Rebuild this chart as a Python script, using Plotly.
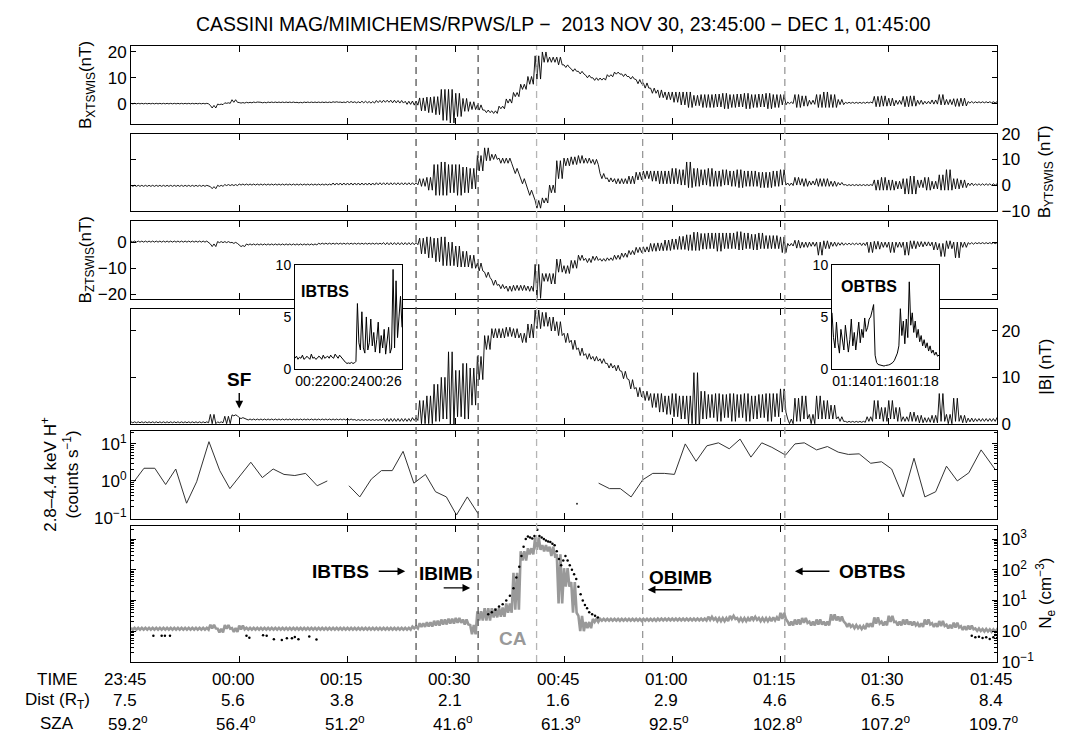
import pandas as pd
import plotly.graph_objects as go

# ---------------- data ----------------
START = pd.Timestamp("2013-11-30 23:45:00")
END = pd.Timestamp("2013-12-01 01:45:00")

minutes = list(range(121))  # minutes after 23:45

bx_mean = [0, 0, 0, 0, 0, 0, 0, 0, 0, 0, 0, -1.2, -0.3, 0.2, 1.0, 0.3, 0.4, 0.5, 0.4, 0.5,
           0.5, 0.5, 0.5, 0.4, 0.5, 0.5, 0.5, 0.5, 0.6, 0.5, 0.6, 0.5, 0.6, 0.5, 0.8, 0.9, 0.8, 0.7, 0.3, 0.2,
           -0.3, -0.5, -0.8, -0.5, -1.0, -0.5, -0.5, -0.8, -1.5, -3.0, -3.3, -1.5, 1.0, 3.5, 6.5, 9.0, 14.0, 18.0, 17.0, 16.5,
           14.5, 13.0, 12.0, 10.5, 9.5, 9.5, 10.8, 11.8, 11.0, 10.0, 8.5, 7.0, 5.0, 3.8, 3.0, 2.5, 2.0, 1.5, 1.2, 1.0,
           1.0, 1.2, 1.0, 1.0, 1.2, 1.0, 1.0, 1.2, 1.0, 1.0, 1.5, 0.3, 1.0, 1.0, 0.5, 1.0, 1.5, 1.0, 0.6, 0.3,
           0.3, 0.3, 0.4, 0.8, 1.0, 0.6, 0.5, 0.8, 1.0, 0.5, 0.4, 0.6, 1.5, 0.6, 0.4, 0.6, 0.5, 0.5, 0.5, 0.5, 0.5]
bx_amp = [0.1, 0.1, 0.1, 0.1, 0.1, 0.1, 0.1, 0.1, 0.1, 0.1, 0.1, 0.5, 0.1, 0.1, 0.5, 0.1, 0.1, 0.1, 0.1, 0.1,
          0.1, 0.1, 0.1, 0.1, 0.1, 0.1, 0.1, 0.1, 0.1, 0.1, 0.2, 0.2, 0.3, 0.3, 0.4, 0.4, 0.5, 0.5, 0.6, 0.8,
          2.5, 3.0, 3.5, 6.0, 6.5, 4.5, 2.5, 1.5, 1.0, 0.5, 0.5, 0.5, 0.8, 0.8, 1.0, 1.5, 4.5, 2.0, 1.0, 1.5,
          0.5, 0.5, 0.5, 0.5, 0.5, 0.4, 0.4, 0.4, 0.5, 0.5, 0.8, 1.0, 1.0, 1.5, 1.5, 2.0, 2.5, 3.0, 2.0, 2.5,
          2.5, 2.5, 3.0, 2.5, 2.5, 3.0, 2.5, 2.5, 3.0, 2.5, 2.0, 0.3, 2.5, 2.0, 0.8, 2.5, 3.0, 2.5, 1.0, 0.2,
          0.2, 0.2, 0.2, 2.0, 2.0, 1.5, 0.8, 2.0, 2.0, 0.8, 0.5, 0.8, 2.0, 1.0, 1.5, 1.5, 0.3, 0.2, 0.2, 0.2, 0.2]

by_mean = [-0.3, -0.3, -0.3, -0.3, -0.3, -0.3, -0.3, -0.3, -0.3, -0.3, -0.3, -1.0, -0.3, 0.0, 0.0, 0.2, 0.2, 0.2, 0.2, 0.2,
           0.2, 0.2, 0.2, 0.2, 0.2, 0.2, 0.2, 0.2, 0.4, 0.4, 0.4, 0.4, 0.4, 0.4, 0.5, 0.5, 0.5, 0.5, 0.5, 0.5,
           1.0, 0.5, 2.0, 2.5, 2.5, 2.0, 2.0, 2.5, 8.5, 12.0, 11.0, 9.5, 9.5, 5.5, 1.5, -3.0, -7.5, -6.0, -1.5, 6.0,
           9.0, 9.5, 10.0, 9.5, 9.0, 3.5, 2.0, 1.5, 1.5, 2.0, 3.5, 4.0, 3.5, 3.0, 3.0, 3.5, 3.0, 4.0, 3.0, 3.0,
           3.0, 2.5, 3.0, 2.5, 2.5, 2.5, 2.5, 2.0, 2.0, 2.5, 3.0, 0.3, 1.5, 1.0, 0.8, 1.0, 1.0, 0.5, 0.5, 0.0,
           0.0, 0.0, 0.0, 0.0, 0.5, 0.0, 0.0, -0.5, 0.0, 0.5, 0.5, 0.0, 1.0, 2.0, 0.5, 0.5, 0.3, 0.2, 0.2, 0.2, 0.2]
by_amp = [0.2, 0.2, 0.2, 0.2, 0.2, 0.2, 0.2, 0.2, 0.2, 0.2, 0.2, 0.4, 0.2, 0.2, 0.2, 0.2, 0.2, 0.2, 0.2, 0.2,
          0.2, 0.2, 0.2, 0.2, 0.2, 0.2, 0.2, 0.2, 0.4, 0.4, 0.4, 0.4, 0.4, 0.4, 0.4, 0.4, 0.4, 0.4, 0.4, 0.4,
          1.5, 2.5, 6.0, 6.5, 5.5, 6.0, 5.0, 4.0, 3.0, 2.5, 1.0, 1.0, 1.0, 1.0, 1.0, 1.0, 1.5, 1.0, 1.5, 3.5,
          1.5, 1.5, 1.5, 1.0, 1.0, 1.0, 0.8, 1.0, 1.0, 1.5, 1.5, 1.5, 2.0, 2.5, 2.5, 3.0, 3.0, 5.0, 3.5, 3.0,
          3.5, 3.0, 3.0, 3.0, 3.5, 3.0, 3.0, 3.0, 3.0, 3.0, 3.0, 0.5, 1.5, 1.5, 0.8, 1.5, 1.5, 1.0, 0.5, 0.2,
          0.2, 0.2, 0.2, 2.0, 2.5, 2.0, 1.5, 3.0, 3.5, 1.5, 2.5, 1.5, 3.0, 4.0, 2.0, 1.5, 0.5, 0.3, 0.3, 0.3, 0.3]

bz_mean = [0.2, 0.2, 0.2, 0.2, 0.2, 0.2, 0.2, 0.2, 0.2, 0.2, 0.2, -1.2, 0.0, 0.0, -0.3, -1.5, -0.9, -0.9, -0.9, -0.9,
           -0.9, -0.9, -0.9, -0.9, -0.9, -0.9, -0.6, -0.6, -0.6, -0.6, -0.6, -0.6, -0.6, -0.6, -0.6, -0.6, -0.6, -0.6, -0.6, -0.6,
           -1.5, -2.0, -3.0, -3.5, -4.5, -5.5, -6.5, -7.5, -9.5, -12.5, -15.5, -17.0, -17.8, -17.5, -17.5, -17.8, -15.0, -13.5, -14.0, -9.0,
           -10.5, -8.5, -6.0, -7.0, -6.2, -6.8, -6.5, -5.8, -5.0, -4.0, -3.0, -2.8, -2.0, -1.8, -1.2, -0.8, -0.3, -0.2, 0.3, 0.3,
           0.5, 0.0, 0.5, 0.5, 0.5, 0.5, 0.0, 0.5, 0.0, 0.0, -1.0, -1.0, -0.8, -1.0, -0.8, -2.5, -1.0, -0.8, -0.7, -0.7,
           -0.7, -0.8, -2.0, -1.2, -1.0, -2.0, -1.0, -2.5, -1.0, -0.8, -0.7, -1.5, -3.0, -1.0, -3.0, -1.0, -0.5, -0.4, -0.4, -0.4, -0.4]
bz_amp = [0.2, 0.2, 0.2, 0.2, 0.2, 0.2, 0.2, 0.2, 0.2, 0.2, 0.2, 0.5, 0.2, 0.2, 0.2, 0.2, 0.2, 0.2, 0.2, 0.2,
          0.2, 0.2, 0.2, 0.2, 0.2, 0.2, 0.2, 0.2, 0.2, 0.2, 0.2, 0.2, 0.2, 0.2, 0.2, 0.4, 0.4, 0.4, 0.4, 0.4,
          3.0, 4.0, 4.5, 5.5, 4.5, 4.0, 3.0, 2.5, 1.5, 1.0, 1.0, 0.8, 1.0, 1.0, 1.0, 1.0, 6.5, 1.5, 2.0, 2.5,
          1.5, 1.5, 1.0, 0.8, 0.8, 0.5, 0.5, 0.8, 0.8, 0.8, 1.0, 1.0, 1.5, 1.5, 2.0, 2.0, 2.5, 3.0, 3.5, 3.0,
          3.0, 3.5, 3.0, 3.0, 3.5, 3.0, 3.0, 3.0, 2.5, 2.5, 3.0, 0.5, 1.5, 1.0, 0.8, 2.5, 1.5, 0.8, 0.5, 0.3,
          0.3, 0.5, 2.0, 1.5, 1.0, 2.0, 1.0, 2.5, 1.5, 1.0, 0.8, 1.5, 2.5, 1.5, 3.0, 1.0, 0.3, 0.2, 0.2, 0.2, 0.2]

bmag_mean = [0.3, 0.3, 0.3, 0.3, 0.3, 0.3, 0.3, 0.3, 0.3, 0.3, 0.3, 1.0, 0.3, 0.8, 1.8, 1.2, 0.9, 0.9, 0.9, 0.9,
             0.9, 0.9, 0.9, 0.9, 0.9, 0.9, 0.9, 0.9, 0.9, 0.9, 0.9, 0.8, 0.8, 0.8, 0.8, 0.8, 0.8, 0.8, 0.8, 1.0,
             2.5, 3.0, 4.5, 5.5, 7.5, 6.5, 7.0, 8.0, 12.0, 17.5, 19.5, 19.5, 19.8, 19.5, 18.5, 20.0, 22.5, 22.5, 21.5, 20.5,
             18.5, 17.0, 15.5, 14.5, 14.0, 13.5, 12.5, 12.0, 10.5, 8.5, 6.8, 6.0, 5.0, 4.5, 4.0, 4.0, 3.5, 3.0, 5.0, 4.0,
             3.8, 3.5, 3.8, 3.5, 3.8, 3.5, 3.5, 3.8, 3.5, 4.0, 5.0, 0.5, 3.0, 3.5, 1.0, 3.5, 3.0, 2.5, 1.0, 0.4,
             0.4, 0.4, 1.0, 3.0, 2.0, 3.0, 2.0, 1.0, 1.5, 1.0, 0.8, 1.0, 3.5, 1.0, 3.0, 1.0, 0.8, 0.8, 0.8, 0.8, 1.0]
bmag_amp = [0.1, 0.1, 0.1, 0.1, 0.1, 0.1, 0.1, 0.1, 0.1, 0.1, 0.1, 1.0, 0.1, 0.8, 0.1, 0.1, 0.1, 0.1, 0.1, 0.1,
            0.1, 0.1, 0.1, 0.1, 0.1, 0.1, 0.1, 0.1, 0.1, 0.1, 0.1, 0.1, 0.1, 0.1, 0.1, 0.3, 0.3, 0.3, 0.3, 0.3,
            2.5, 3.0, 4.0, 4.5, 8.0, 5.0, 6.0, 4.0, 2.5, 1.5, 1.0, 1.0, 1.0, 1.0, 1.0, 1.5, 2.0, 1.5, 1.5, 1.5,
            1.0, 1.0, 0.8, 0.6, 0.5, 0.5, 0.5, 0.6, 0.8, 1.0, 1.0, 1.0, 1.5, 2.0, 2.0, 2.5, 2.5, 3.0, 6.0, 3.0,
            2.5, 3.0, 2.5, 3.0, 2.5, 3.0, 2.5, 2.5, 3.0, 2.5, 2.5, 0.5, 2.5, 2.5, 1.0, 2.5, 2.0, 1.5, 0.5, 0.1,
            0.1, 0.1, 0.5, 2.0, 1.5, 2.0, 1.5, 0.5, 1.0, 0.8, 0.5, 0.8, 3.0, 1.0, 2.5, 0.8, 0.4, 0.3, 0.3, 0.3, 0.3]

# 2.8-4.4 keV H+ counts (None = data gap)
counts_minutes = [0.4, 1.8, 3.3, 4.8, 6.2, 7.7, 9.1, 10.8, 12.3, 13.7, 15.2, 16.6, 18.2, 19.7, 21.2, 22.7, 24.2, 25.8, 27.2,
                  28.7,
                  30.2, 31.7, 33.3, 34.7, 36.2, 37.7, 39.2, 40.8, 42.2, 43.7, 45.1, 46.6, 48.1,
                  56.0,
                  64.8, 66.3, 67.8, 69.3, 70.9, 72.3, 73.9, 75.3, 76.8, 78.3, 79.8, 81.4, 82.9, 84.4, 85.9, 87.4, 88.8,
                  90.7, 92.0, 93.3, 95.0, 96.5, 98.0, 99.4, 100.9, 102.5, 104.0, 105.4, 107.0, 108.5, 110.0, 111.5,
                  113.0, 114.5, 116.1, 117.8, 119.7]
counts_values = [0.95, 2.2, 2.2, 0.8, 2.1, 0.25, 0.95, 11.5, 1.9, 0.62, 1.45, 3.2, 1.23, 2.1, 1.5, 1.4, 1.6, 0.74, 1.0,
                 None,
                 0.74, 0.37, 1.12, 1.9, 1.9, 6.3, 0.87, 1.5, 0.51, 0.37, 0.12, 0.37, 0.13,
                 None,
                 0.87, 0.62, 0.62, 0.37, 1.07, 1.6, 1.6, 1.5, 10.0, 3.4, 8.9, 10.7, 7.4, 13.5, 4.4, 10.7, 8.1,
                 5.0, 10.0, 10.7, 6.9, 8.5, 6.0, 5.2, 5.4, 3.0, 3.3, 2.1, 0.37, 4.1, 0.37, 0.51,
                 2.5, 1.0, 1.66, 6.9, 2.1]
counts_dot_minutes = [61.8]
counts_dot_values = [0.24]

# Electron density, LP (grey): log10 of per-minute level and spread
ne_log_mean = [0.08, 0.08, 0.08, 0.08, 0.08, 0.08, 0.08, 0.08, 0.08, 0.08, 0.08, 0.15, 0.02, 0.14, 0.04, 0.12, 0.08, 0.08, 0.08, 0.08,
               0.08, 0.08, 0.08, 0.08, 0.08, 0.08, 0.08, 0.08, 0.08, 0.08, 0.08, 0.08, 0.08, 0.08, 0.08, 0.08, 0.08, 0.08, 0.08, 0.12,
               0.2, 0.22, 0.26, 0.3, 0.33, 0.35, 0.3, 0.05, 0.5, 0.55, 0.6, 0.62, 0.75, 1.3, 2.45, 2.6, 2.85, 2.7, 2.6, 1.7,
               1.75, 1.1, 0.25, 0.2, 0.35, 0.37, 0.37, 0.37, 0.37, 0.37, 0.37, 0.37, 0.37, 0.38, 0.38, 0.38, 0.38, 0.38, 0.38, 0.38,
               0.42, 0.38, 0.38, 0.45, 0.38, 0.38, 0.42, 0.38, 0.38, 0.4, 0.5, 0.25, 0.3, 0.35, 0.25, 0.3, 0.25, 0.45, 0.4, 0.2,
               0.15, 0.12, 0.2, 0.35, 0.25, 0.4, 0.25, 0.3, 0.25, 0.2, 0.3, 0.2, 0.25, 0.15, 0.2, 0.1, 0.12, 0.05, 0.03, 0.02, 0.02]
ne_log_amp = [0.03, 0.03, 0.03, 0.03, 0.03, 0.03, 0.03, 0.03, 0.03, 0.03, 0.03, 0.06, 0.06, 0.06, 0.06, 0.06, 0.03, 0.03, 0.03, 0.03,
              0.03, 0.03, 0.03, 0.03, 0.03, 0.03, 0.03, 0.03, 0.03, 0.03, 0.03, 0.03, 0.03, 0.03, 0.03, 0.03, 0.03, 0.03, 0.03, 0.03,
              0.06, 0.07, 0.08, 0.08, 0.08, 0.08, 0.08, 0.15, 0.15, 0.2, 0.15, 0.15, 0.15, 0.6, 0.15, 0.1, 0.2, 0.1, 0.15, 0.8,
              0.3, 0.5, 0.25, 0.1, 0.05, 0.03, 0.03, 0.03, 0.03, 0.03, 0.03, 0.03, 0.03, 0.03, 0.03, 0.03, 0.03, 0.03, 0.03, 0.03,
              0.05, 0.05, 0.05, 0.05, 0.05, 0.05, 0.05, 0.05, 0.05, 0.05, 0.1, 0.06, 0.08, 0.08, 0.06, 0.08, 0.06, 0.1, 0.08, 0.06,
              0.05, 0.05, 0.06, 0.1, 0.06, 0.1, 0.06, 0.08, 0.06, 0.06, 0.08, 0.06, 0.08, 0.06, 0.08, 0.06, 0.06, 0.04, 0.04, 0.04, 0.04]

# Electron density, RPWS (black dots): minutes and log10 density
rpws_minutes = [3.1, 4.25, 4.7, 5.4, 16.0, 16.4, 18.3, 18.8, 19.8, 20.9, 21.6, 22.3, 22.7, 23.2, 24.7, 25.7,
                49.5, 50.0, 50.5, 51.0, 51.5, 52.0, 52.5, 53.0, 53.4, 53.8, 54.1, 54.4, 54.7, 55.0, 55.3, 55.6, 55.9,
                56.3, 56.6, 56.9, 57.2, 57.5, 57.8, 58.1, 58.4, 58.7, 59.0, 59.3, 59.6, 59.9, 60.2, 60.5, 60.8, 61.1,
                61.4, 61.7, 62.0, 62.3, 62.6, 62.9, 63.2, 63.5, 63.9, 64.3, 64.7,
                116.5, 117.0, 117.5, 118.0, 118.5, 119.0, 119.5, 120.0]
rpws_log = [-0.15, -0.15, -0.15, -0.15, -0.15, -0.21, -0.13, -0.15, -0.26, -0.29, -0.23, -0.23, -0.19, -0.26, -0.17, -0.27,
            0.55, 0.62, 0.7, 0.8, 0.88, 1.0, 1.15, 1.4, 1.75, 2.1, 2.45, 2.75, 3.0, 3.08, 3.05, 3.02, 3.1,
            3.3, 3.1, 3.05, 3.0, 2.95, 2.92, 2.9, 2.85, 2.8, 2.6, 2.35, 2.15, 2.3, 2.45, 2.3, 2.15, 2.0,
            1.85, 1.7, 1.45, 1.2, 1.0, 0.85, 0.75, 0.62, 0.55, 0.5, 0.45,
            -0.15, -0.2, -0.18, -0.22, -0.2, -0.25, -0.2, -0.22]

# insets: |B| at 5-s cadence
ib_start = pd.Timestamp("2013-12-01 00:21:00")
ib_values = [1.0, 1.2, 0.9, 1.1, 1.0, 1.3, 0.9, 1.0, 1.2, 1.0, 0.9, 1.4, 1.0, 1.1, 0.9, 1.0, 1.2, 1.1, 0.9, 1.3,
             1.0, 1.1, 1.2, 1.0, 1.3, 1.1, 1.0, 1.4, 1.2, 1.0, 1.3, 1.1, 0.9, 0.8,
             0.6, 0.5, 0.55, 0.5, 0.6, 0.5, 0.55, 0.7,
             6.3, 2.5, 1.8, 5.5, 2.0, 1.5, 5.0, 1.8, 2.5, 4.8, 2.2, 3.5, 1.6, 2.8, 4.5, 1.5, 3.2, 2.0, 3.8, 1.4,
             2.5, 4.0, 1.5, 2.0, 9.6, 2.0, 8.5, 3.0, 5.0, 7.0, 4.0]
ob_start = pd.Timestamp("2013-12-01 01:13:00")
ob_values = [5.4, 3.0, 2.0, 4.5, 2.5, 1.5, 3.8, 2.6, 1.8, 4.2, 3.0, 1.6, 2.8, 4.8, 2.2, 3.5, 1.8, 3.0, 4.5, 2.5,
             3.8, 3.0, 4.9, 3.6, 4.0, 4.8, 5.0, 5.6, 6.2,
             1.3, 0.6, 0.4, 0.35, 0.3, 0.25, 0.25, 0.3, 0.3, 0.35, 0.4, 0.5, 0.6, 0.8, 1.2, 1.5, 2.2,
             5.8, 3.2, 4.6, 2.4, 4.8, 3.0, 8.4, 4.2, 5.4, 3.5, 4.6, 3.0, 3.8, 2.6, 3.2, 2.2, 2.8, 2.0, 2.5, 1.7,
             2.2, 1.5, 1.8, 1.3, 1.6, 1.2, 1.3]

# boundary crossings (minutes after 23:45) and line colours
boundary_minutes = [39.5, 48.1, 56.2, 70.9, 90.6]
boundary_colors = ["#555555", "#555555", "#b5b5b5", "#999999", "#999999"]

table_times = ["23:45", "00:00", "00:15", "00:30", "00:45", "01:00", "01:15", "01:30", "01:45"]
table_dist = ["7.5", "5.6", "3.8", "2.1", "1.6", "2.9", "4.6", "6.5", "8.4"]
table_sza = ["59.2", "56.4", "51.2", "41.6", "61.3", "92.5", "102.8", "107.2", "109.7"]

# ---------------- layout geometry (page pixels) ----------------
W, H = 1086, 746
X0, X1 = 131, 997
panels_px = [(38, 118), (128, 207), (218, 298), (308, 426), (433, 523), (530, 670)]
inset1_px = (295, 402, 263, 369)
inset2_px = (832, 939, 263, 369)


def px_x(p):
    return p / W


def px_y(p):
    return 1 - p / H


def tm(m):
    return START + pd.to_timedelta(m, unit="m")


def dense(mean, amp, sub=2):
    """Min/max rendering: each minute's spread drawn as alternating max/min samples."""
    t, v = [], []
    for k, m, a in zip(minutes, mean, amp):
        for j in range(sub):
            t += [k + j / sub, k + (j + 0.5) / sub]
            v += [m + a, m - a]
    return tm(t), v


FONT = "Liberation Sans, Arial, Helvetica, sans-serif"
fig = go.Figure()

# magnetic field panels
for i, (mean, amp) in enumerate([(bx_mean, bx_amp), (by_mean, by_amp), (bz_mean, bz_amp), (bmag_mean, bmag_amp)]):
    t, v = dense(mean, amp)
    sfx = "" if i == 0 else str(i + 1)
    fig.add_trace(go.Scatter(x=t, y=v, mode="lines", line=dict(color="black", width=0.9),
                             xaxis="x" + sfx, yaxis="y" + sfx, showlegend=False, hoverinfo="skip"))

# counts panel
fig.add_trace(go.Scatter(x=tm(counts_minutes), y=counts_values, mode="lines", connectgaps=False,
                         line=dict(color="#333333", width=1), xaxis="x5", yaxis="y5", showlegend=False))
fig.add_trace(go.Scatter(x=tm(counts_dot_minutes), y=counts_dot_values, mode="markers",
                         marker=dict(color="#333333", size=2), xaxis="x5", yaxis="y5", showlegend=False))

# density panel
t_ne, v_ne = dense(ne_log_mean, ne_log_amp)
fig.add_trace(go.Scatter(x=t_ne, y=[10 ** v for v in v_ne], mode="lines",
                         line=dict(color="#999999", width=2.6), xaxis="x6", yaxis="y6", showlegend=False))
fig.add_trace(go.Scatter(x=tm(rpws_minutes), y=[10 ** v for v in rpws_log], mode="markers",
                         marker=dict(color="black", size=2.5), xaxis="x6", yaxis="y6", showlegend=False))

# insets
ib_t = ib_start + pd.to_timedelta([5 * k for k in range(len(ib_values))], unit="s")
ob_t = ob_start + pd.to_timedelta([5 * k for k in range(len(ob_values))], unit="s")
fig.add_trace(go.Scatter(x=ib_t, y=ib_values, mode="lines", line=dict(color="black", width=1),
                         xaxis="x7", yaxis="y7", showlegend=False))
fig.add_trace(go.Scatter(x=ob_t, y=ob_values, mode="lines", line=dict(color="black", width=1),
                         xaxis="x8", yaxis="y8", showlegend=False))

# ---------------- axes ----------------
axis_common = dict(showline=True, linecolor="black", linewidth=1, mirror="allticks", ticks="inside",
                   ticklen=5, tickwidth=1, tickcolor="black", showgrid=False, zeroline=False,
                   tickfont=dict(family=FONT, size=17, color="black"))

y_specs = [
    dict(range=[-7.9, 22.3], tickvals=[0, 10, 20], side="left"),
    dict(range=[-10, 20], tickvals=[-10, 0, 10, 20], side="right"),
    dict(range=[-21.9, 7.9], tickvals=[-20, -10, 0], side="left"),
    dict(range=[-0.1, 24.7], tickvals=[0, 10, 20], side="right"),
    dict(type="log", range=[-1.02, 1.35], tickvals=[0.1, 1, 10],
         ticktext=["10<sup>\u22121</sup>", "10<sup>0</sup>", "10<sup>1</sup>"], side="left"),
    dict(type="log", range=[-1, 3.44], tickvals=[0.1, 1, 10, 100, 1000],
         ticktext=["10<sup>\u22121</sup>", "10<sup>0</sup>", "10<sup>1</sup>", "10<sup>2</sup>", "10<sup>3</sup>"],
         side="right"),
]

layout = dict(width=W, height=H, margin=dict(l=0, r=0, t=0, b=0), paper_bgcolor="white",
              plot_bgcolor="white", showlegend=False, font=dict(family=FONT, color="black"))

for i, (top, bot) in enumerate(panels_px):
    sfx = "" if i == 0 else str(i + 1)
    xa = dict(axis_common)
    xa.update(domain=[px_x(X0), px_x(X1)], range=[START, END], type="date", dtick=15 * 60 * 1000,
              tick0=START, showticklabels=False, anchor="y" + sfx, ticklen=6)
    ya = dict(axis_common)
    ya.update(domain=[px_y(bot), px_y(top)], anchor="x" + sfx)
    ya.update(y_specs[i])
    if ya.get("type") == "log":
        ya["minor"] = dict(ticks="inside", ticklen=3, tickcolor="black", dtick="D1", showgrid=False)
    layout["xaxis" + sfx] = xa
    layout["yaxis" + sfx] = ya

for n, (box, start, labs) in enumerate([(inset1_px, ib_start, ["00:22", "00:24", "00:26"]),
                                         (inset2_px, ob_start, ["01:14", "01:16", "01:18"])]):
    sfx = str(7 + n)
    l, r, tp, bt = box
    tvals = [start + pd.Timedelta(minutes=k) for k in (1, 3, 5)]
    layout["xaxis" + sfx] = dict(domain=[px_x(l), px_x(r)], range=[start, start + pd.Timedelta(minutes=6)],
                                 type="date", showline=True, mirror=True, linecolor="black", linewidth=1,
                                 ticks="", tickvals=tvals, ticktext=labs, tickangle=0, showgrid=False,
                                 zeroline=False, tickfont=dict(family=FONT, size=14, color="black"),
                                 anchor="y" + sfx)
    layout["yaxis" + sfx] = dict(domain=[px_y(bt), px_y(tp)], range=[0, 10], showline=True, mirror=True,
                                 linecolor="black", linewidth=1, ticks="", tickvals=[0, 5, 10],
                                 showgrid=False, zeroline=False,
                                 tickfont=dict(family=FONT, size=14, color="black"), anchor="x" + sfx)

fig.update_layout(**layout)

# ---------------- boundary lines ----------------
for m, c in zip(boundary_minutes, boundary_colors):
    fig.add_shape(type="line", xref="x6", yref="paper", x0=tm(m), x1=tm(m),
                  y0=px_y(panels_px[-1][1]), y1=px_y(panels_px[0][0]),
                  line=dict(color=c, width=1.3, dash="7px,5px"), layer="above")

# ---------------- texts ----------------
ann = []


def paper_text(text, xp, yp, size=16, angle=0, family=FONT, color="black"):
    return dict(text=text, xref="paper", yref="paper", x=px_x(xp), y=px_y(yp), xanchor="center",
                yanchor="middle", textangle=angle, showarrow=False,
                font=dict(size=size, family=family, color=color))


ann.append(paper_text("CASSINI MAG/MIMICHEMS/RPWS/LP \u2212  2013 NOV 30, 23:45:00 \u2212 DEC 1, 01:45:00",
                      563, 15, size=19.4))

ytitles = [("B<sub>XTSWIS</sub>(nT)", 87, 0), ("B<sub>YTSWIS</sub> (nT)", 1046, 1), ("B<sub>ZTSWIS</sub>(nT)", 87, 2),
           ("|B| (nT)", 1046, 3), ("2.8\u20134.4 keV H<sup>+</sup><br>(counts s<sup>\u22121</sup>)", 60, 4),
           ("N<sub>e</sub> (cm<sup>\u22123</sup>)", 1046, 5)]
for txt, xp, i in ytitles:
    top, bot = panels_px[i]
    ann.append(paper_text(txt, xp, (top + bot) / 2, size=17, angle=-90))

BOLD = dict(size=19, family=FONT, color="black")
# density-panel annotations (time in minutes, log10 density)
ne_labels = [("<b>IBTBS</b>", 29.0, 1.93), ("<b>IBIMB</b>", 43.6, 1.89), ("<b>OBIMB</b>", 76.1, 1.76),
             ("<b>OBTBS</b>", 102.7, 1.93)]
for txt, m, lv in ne_labels:
    ann.append(dict(text=txt, xref="x6", yref="y6", x=tm(m), y=lv, xanchor="center", yanchor="middle",
                    showarrow=False, font=BOLD))
ann.append(dict(text="<b>CA</b>", xref="x6", yref="y6", x=tm(52.9), y=-0.24, xanchor="center", yanchor="middle",
                showarrow=False, font=dict(size=19, family=FONT, color="#999999")))
ne_arrows = [(38.0, 1.95, -28), (47.0, 1.41, -28), (71.6, 1.35, 36), (92.0, 1.95, 36)]
for m, lv, axp in ne_arrows:
    ann.append(dict(text="", xref="x6", yref="y6", x=tm(m), y=lv, ax=axp, ay=0, showarrow=True,
                    arrowhead=2, arrowsize=1.1, arrowwidth=1.4, arrowcolor="black"))
# SF
ann.append(dict(text="<b>SF</b>", xref="x4", yref="y4", x=tm(15.0), y=9.6, xanchor="center", yanchor="middle",
                showarrow=False, font=BOLD))
ann.append(dict(text="", xref="x4", yref="y4", x=tm(15.0), y=3.3, ax=0, ay=-17, showarrow=True,
                arrowhead=2, arrowsize=1.1, arrowwidth=1.4, arrowcolor="black"))
# inset labels
ann.append(dict(text="<b>IBTBS</b>", xref="x7", yref="y7", x=ib_start + pd.Timedelta(seconds=15), y=7.45,
                xanchor="left", yanchor="middle", showarrow=False, font=dict(size=16, family=FONT)))
ann.append(dict(text="<b>OBTBS</b>", xref="x8", yref="y8", x=ob_start + pd.Timedelta(seconds=22), y=7.9,
                xanchor="left", yanchor="middle", showarrow=False, font=dict(size=16, family=FONT)))

# table under the axes
TFAM = "Liberation Sans Narrow, Arial Narrow, " + FONT
rows = [(688, "TIME"), (710, "Dist (R<sub>T</sub>)"), (733, "SZA")]
for ypx, head in rows:
    ann.append(paper_text(head, 57, ypx, size=17, family=TFAM))
for k in range(9):
    xt = tm(15 * k)
    for ypx, txt, shift in [(688, table_times[k], -6), (710, table_dist[k], -6),
                            (733, table_sza[k] + "<sup>o</sup>", -3)]:
        ann.append(dict(text=txt, xref="x6", yref="paper", x=xt, y=px_y(ypx), xshift=shift, xanchor="center",
                        yanchor="middle", showarrow=False, font=dict(size=17, family=TFAM, color="black")))

fig.update_layout(annotations=ann)
# the page's default body margin would offset the figure; remove it so layout pixels match the page
fig.write_html("out.html", config={"displayModeBar": False},
               post_script="document.body.style.margin='0px';document.documentElement.style.overflow='hidden';")
